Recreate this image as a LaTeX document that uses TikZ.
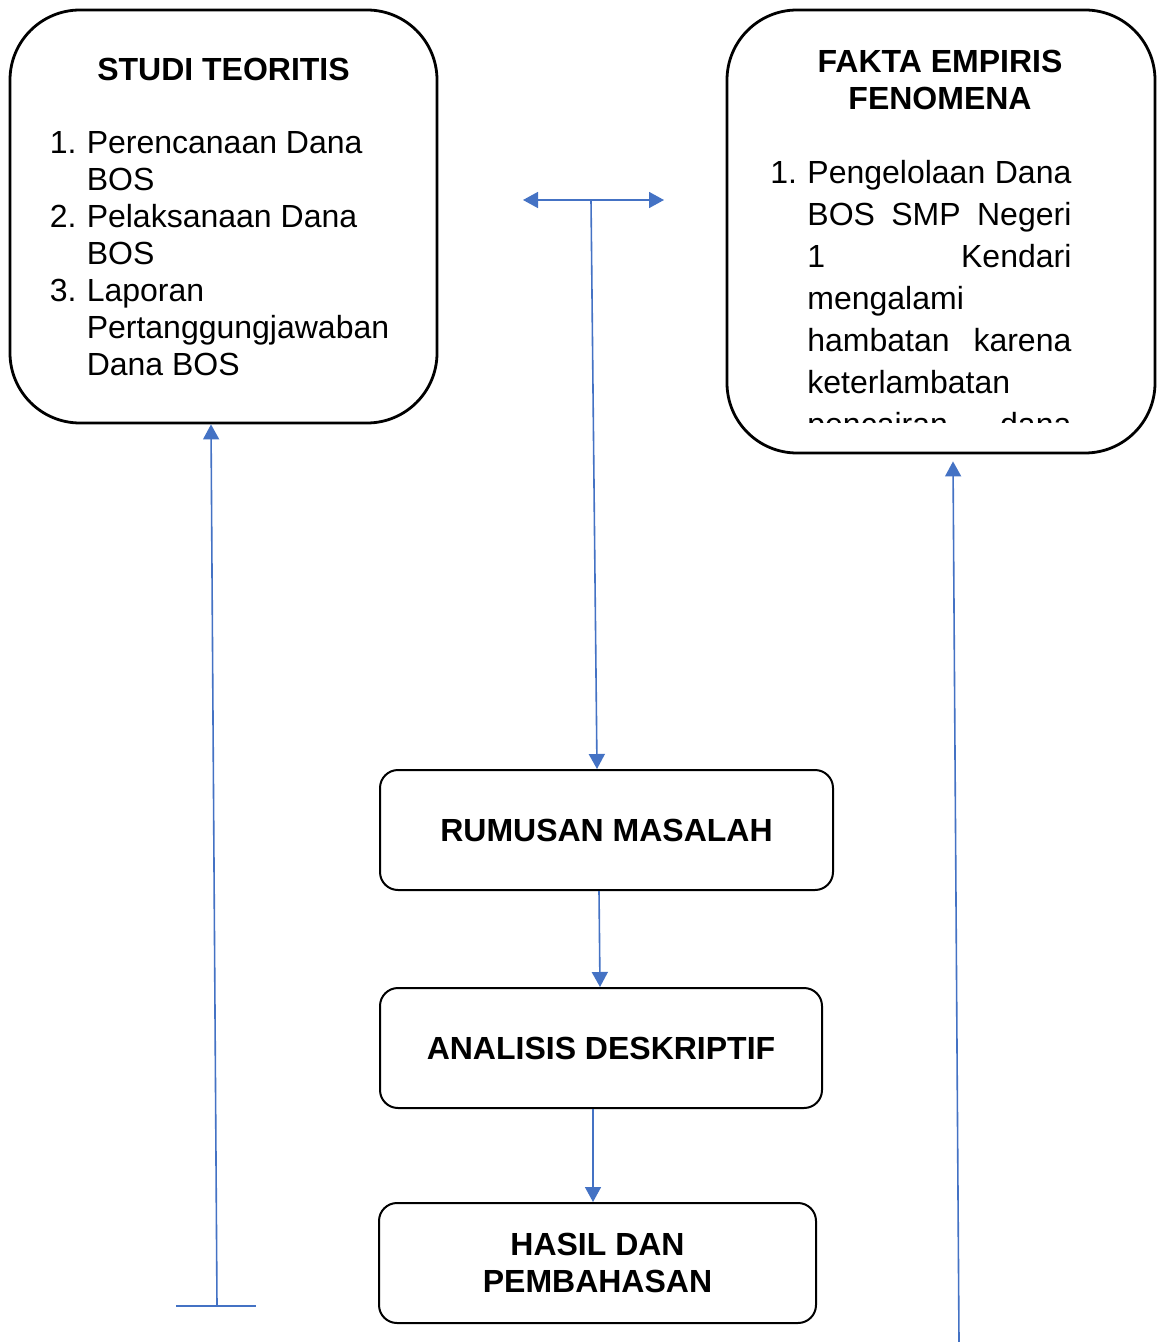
\documentclass[tikz,border=0pt]{standalone}
\usepackage{fontspec}
\setmainfont{Liberation Sans}
\usepackage{xcolor}
\usepackage{tikz}
\usetikzlibrary{arrows.meta,calc}
\definecolor{linkblue}{HTML}{4472C4}
\newcommand{\jline}[1]{\makebox[132pt][s]{#1}}

\begin{document}
\begin{tikzpicture}[x=0.5pt, y=-0.5pt,
  every node/.style={font=\fontsize{16}{18.5}\selectfont},
  bigbox/.style={draw, line width=1.4pt, rounded corners=35pt, inner sep=0pt, align=center},
  stepbox/.style={draw, line width=1pt, rounded corners=9pt, align=center,
                  minimum height=60pt, font=\fontsize{16}{18.5}\selectfont\bfseries},
  conn/.style={draw=linkblue, line width=0.8pt},
  arr/.style={conn, -{Triangle[length=7.5pt, width=8pt]}}]
  \useasboundingbox (0,0) rectangle (1157,1342);
  \node[bigbox, minimum width=213.5pt, minimum height=206.5pt] (st) at (223.5,216.5)
    {\rule{0pt}{17pt}\textbf{STUDI TEORITIS}\\[18pt]
     \hspace*{-2pt}\begin{tabular}[t]{@{}p{18.5pt}@{}l@{}}
       1. & Perencanaan Dana\\
          & BOS\\
       2. & Pelaksanaan Dana\\
          & BOS\\
       3. & Laporan\\
          & Pertanggungjawaban\\
          & Dana BOS
     \end{tabular}\hspace*{2pt}};
  \node[bigbox, minimum width=214pt, minimum height=221.5pt] (fe) at (941,231.5) {};
  \node[align=center, font=\fontsize{16}{18.5}\selectfont\bfseries] (fet) at (940,79.5)
    {FAKTA EMPIRIS\\FENOMENA};
  \begin{scope}
    \clip (740,20) rectangle (1140,422);
    \node[anchor=base west, inner sep=0pt, font=\fontsize{16}{21}\selectfont] (fel) at (770,183.5)
      {\begin{tabular}[t]{@{}p{18.5pt}@{}l@{}}
         1. & \jline{Pengelolaan Dana}\\
            & \jline{BOS SMP Negeri}\\
            & \jline{1 Kendari}\\
            & mengalami\\
            & \jline{hambatan karena}\\
            & keterlambatan\\
            & \jline{pencairan dana}
       \end{tabular}};
  \end{scope}
  \node[stepbox, minimum width=226.5pt] (rm) at (606.5,830) {RUMUSAN MASALAH};
  \node[stepbox, minimum width=221pt] (ad) at (601,1048) {ANALISIS DESKRIPTIF};
  \node[stepbox, minimum width=218.5pt] (hp) at (597.5,1263) {HASIL DAN\\PEMBAHASAN};
  \coordinate (la) at (523,200);
  \coordinate (ra) at (664,200);
  \coordinate (jn) at (591,200);
  \coordinate (lb) at (217,1306);
  \coordinate (lbl) at (176,1306);
  \coordinate (lbr) at (256,1306);
  \coordinate (rb) at (959,1342);
  \draw[conn, {Triangle[length=7.5pt, width=8pt]}-{Triangle[length=7.5pt, width=8pt]}] (la) -- (ra);
  \draw[arr] (jn) -- ($(rm.north)+(-9.5,0)$);
  \draw[arr] ($(rm.south)+(-7.5,0)$) -- ($(ad.north)+(-1,0)$);
  \draw[arr] ($(ad.south)+(-8,0)$) -- ($(hp.north)+(-4.5,0)$);
  \draw[conn] (lbl) -- (lbr);
  \draw[arr] (lb) -- ($(st.south)+(-12.5,0)$);
  \draw[arr] (rb) -- ($(fe.south)+(12,7)$);
\end{tikzpicture}
\end{document}
